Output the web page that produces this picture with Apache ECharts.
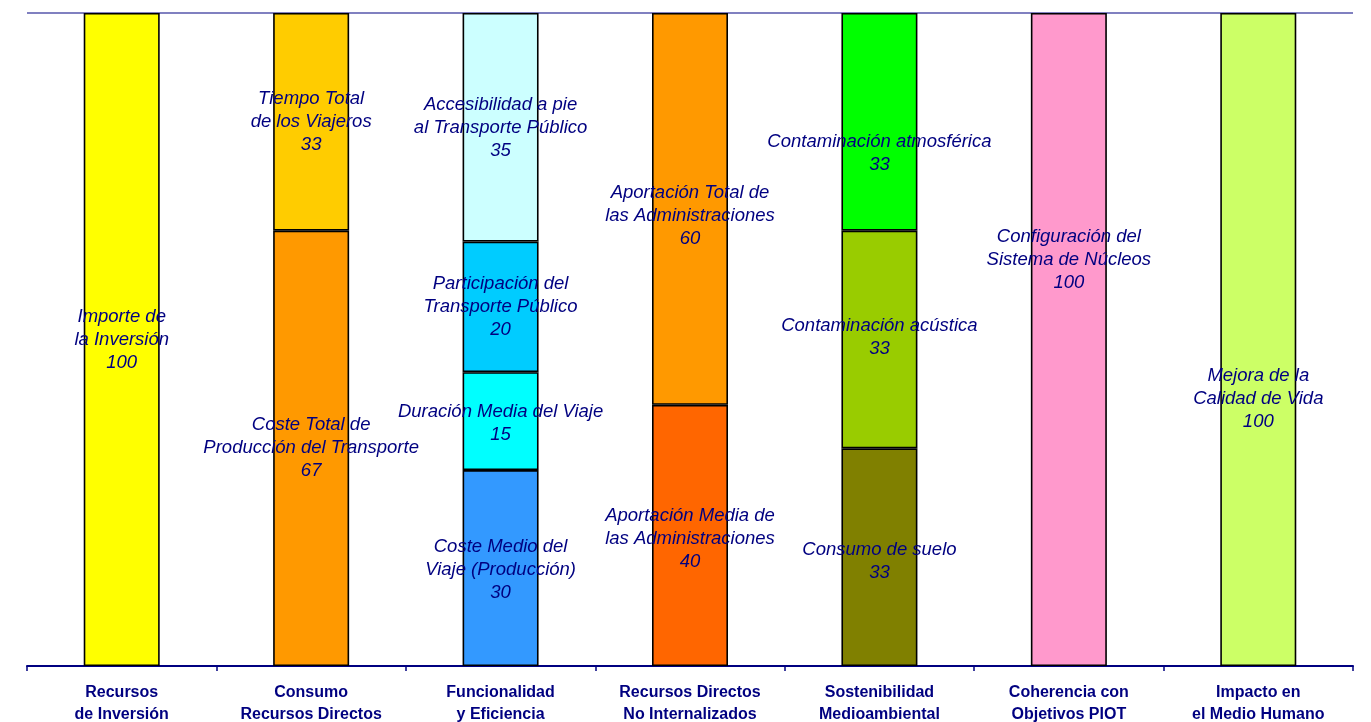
<!doctype html>
<html>
<head>
<meta charset="utf-8">
<title>Indicadores</title>
<style type="text/css">
html,body {
  margin:0;
  padding:0;
  background-color:#fff;
}
#chart { width:1371px; height:722px; }
</style>
<script type="text/javascript" src="https://cdn.jsdelivr.net/npm/echarts@6/dist/echarts.min.js"></script>
</head>
<body>
<div id="chart"></div>
<script type="text/javascript">
// categorias del eje
var categories = [
  'Recursos\nde Inversión',
  'Consumo\nRecursos Directos',
  'Funcionalidad\ny Eficiencia',
  'Recursos Directos\nNo Internalizados',
  'Sostenibilidad\nMedioambiental',
  'Coherencia con\nObjetivos PIOT',
  'Impacto en\nel Medio Humano'
];

// niveles apilados, de abajo arriba
var level1Values = [100, 66.67, 30, 40, 33.33, 100, 100];
var level1Names = [
  'Importe de\nla Inversión',
  'Coste Total de\nProducción del Transporte',
  'Coste Medio del\nViaje (Producción)',
  'Aportación Media de\nlas Administraciones',
  'Consumo de suelo',
  'Configuración del\nSistema de Núcleos',
  'Mejora de la\nCalidad de Vida'
];
var level2Values = [null, 33.33, 15, 60, 33.33, null, null];
var level2Names = [
  null,
  'Tiempo Total\nde los Viajeros',
  'Duración Media del Viaje',
  'Aportación Total de\nlas Administraciones',
  'Contaminación acústica',
  null, null
];
var level3Values = [null, null, 20, null, 33.34, null, null];
var level3Names = [null, null, 'Participación del\nTransporte Público', null, 'Contaminación atmosférica', null, null];
var level4Values = [null, null, 35, null, null, null, null];
var level4Names = [null, null, 'Accesibilidad a pie\nal Transporte Público', null, null, null, null];

// colores por nivel y categoria
var colors = [
  ['#FFFF00', '#FF9900', '#3399FF', '#FF6600', '#808000', '#FF99CC', '#CCFF66'],
  [null, '#FFCC00', '#00FFFF', '#FF9900', '#99CC00', null, null],
  [null, null, '#00CCFF', null, '#00FF00', null, null],
  [null, null, '#CCFFFF', null, null, null, null]
];
// desplazamiento vertical de algunas etiquetas (px)
var labelShift = [
  [0, 0, 2, 3, 4, -80, 59],
  [0, 0, 2, 7, -2, 0, 0],
  [0, 0, 0, 0, 32, 0, 0],
  [0, 0, 1, 0, 0, 0, 0]
];

var levels = [
  [level1Values, level1Names],
  [level2Values, level2Names],
  [level3Values, level3Names],
  [level4Values, level4Names]
];

var series = [];
levels.forEach(function(lv, i) {
  series.push({
    type: 'bar',
    stack: 'total',
    barWidth: 76,
    itemStyle: { borderColor: '#000', borderWidth: 1.6 },
    label: {
      show: true,
      position: 'inside',
      color: '#000080',
      fontFamily: 'Liberation Sans',
      fontStyle: 'italic',
      fontSize: 18.5,
      lineHeight: 23,
      formatter: function(p) {
        return p.name ? p.data.segName + '\n' + Math.round(p.value) : '';
      }
    },
    data: lv[0].map(function(v, j) {
      if (v === null) return '-';
      return {
        value: v,
        segName: lv[1][j],
        itemStyle: { color: colors[i][j] },
        label: { offset: [0, labelShift[i][j]] }
      };
    })
  });
});

var myChart = echarts.init(document.getElementById('chart'));
myChart.setOption({
  backgroundColor: '#fff',
  animation: false,
  grid: { left: 27, right: 18, top: 13, bottom: 56, outerBoundsMode: 'none' },
  xAxis: {
    type: 'category',
    data: categories,
    axisLine: { lineStyle: { color: '#000080', width: 2 } },
    axisTick: { show: true, length: 5, lineStyle: { color: '#000080', width: 1.5 } },
    axisLabel: {
      color: '#000080',
      fontFamily: 'Liberation Sans',
      fontWeight: 'bold',
      fontSize: 16,
      lineHeight: 22,
      margin: 16
    }
  },
  yAxis: {
    type: 'value',
    min: 0,
    max: 100,
    interval: 100,
    axisLine: { show: false },
    axisTick: { show: false },
    axisLabel: { show: false },
    splitLine: { show: true, lineStyle: { color: '#8080c0', width: 2 } }
  },
  series: series
});
</script>
</body>
</html>
